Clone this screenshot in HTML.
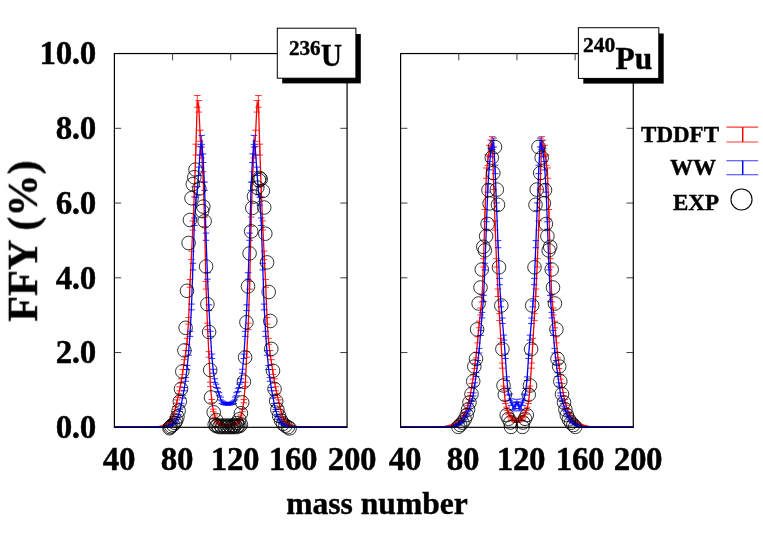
<!DOCTYPE html><html><head><meta charset="utf-8"><title>FFY</title><style>
html,body{margin:0;padding:0;background:#fff}body{width:763px;height:534px;position:relative;overflow:hidden;font-family:"Liberation Serif",serif;font-weight:bold;color:#000}
.t{position:absolute;white-space:nowrap;line-height:1;margin:0;padding:0;will-change:transform;-webkit-text-stroke:0.4px #000}
.t sup{vertical-align:baseline;position:relative}
</style></head><body>
<svg width="763" height="534" viewBox="0 0 763 534" style="position:absolute;left:0;top:0">
<rect width="763" height="534" fill="#fff"/>
<defs><clipPath id="c1"><rect x="114.4" y="53.55" width="232.67" height="374.00"/></clipPath><clipPath id="c2"><rect x="400.6" y="53.55" width="232.67" height="374.00"/></clipPath></defs>
<g clip-path="url(#c1)">
<path d="M114.40 427.30V427.30M111.10 427.30h6.6M111.10 427.30h6.6M115.85 427.30V427.30M112.55 427.30h6.6M112.55 427.30h6.6M117.31 427.30V427.30M114.01 427.30h6.6M114.01 427.30h6.6M118.76 427.30V427.30M115.46 427.30h6.6M115.46 427.30h6.6M120.22 427.30V427.30M116.92 427.30h6.6M116.92 427.30h6.6M121.67 427.30V427.30M118.37 427.30h6.6M118.37 427.30h6.6M123.13 427.30V427.30M119.83 427.30h6.6M119.83 427.30h6.6M124.58 427.30V427.30M121.28 427.30h6.6M121.28 427.30h6.6M126.03 427.30V427.30M122.73 427.30h6.6M122.73 427.30h6.6M127.49 427.30V427.30M124.19 427.30h6.6M124.19 427.30h6.6M128.94 427.30V427.30M125.64 427.30h6.6M125.64 427.30h6.6M130.40 427.30V427.30M127.10 427.30h6.6M127.10 427.30h6.6M131.85 427.30V427.30M128.55 427.30h6.6M128.55 427.30h6.6M133.30 427.30V427.30M130.00 427.30h6.6M130.00 427.30h6.6M134.76 427.30V427.30M131.46 427.30h6.6M131.46 427.30h6.6M136.21 427.30V427.30M132.91 427.30h6.6M132.91 427.30h6.6M137.67 427.30V427.30M134.37 427.30h6.6M134.37 427.30h6.6M139.12 427.30V427.30M135.82 427.30h6.6M135.82 427.30h6.6M140.58 427.30V427.30M137.28 427.30h6.6M137.28 427.30h6.6M142.03 427.20V427.30M138.73 427.20h6.6M138.73 427.30h6.6M143.48 427.20V427.30M140.18 427.20h6.6M140.18 427.30h6.6M144.94 427.20V427.30M141.64 427.20h6.6M141.64 427.30h6.6M146.39 427.20V427.30M143.09 427.20h6.6M143.09 427.30h6.6M147.85 427.17V427.30M144.55 427.17h6.6M144.55 427.30h6.6M149.30 427.14V427.30M146.00 427.14h6.6M146.00 427.30h6.6M150.75 427.09V427.30M147.45 427.09h6.6M147.45 427.30h6.6M152.21 427.03V427.28M148.91 427.03h6.6M148.91 427.28h6.6M153.66 426.97V427.25M150.36 426.97h6.6M150.36 427.25h6.6M155.12 426.91V427.22M151.82 426.91h6.6M151.82 427.22h6.6M156.57 426.83V427.18M153.27 426.83h6.6M153.27 427.18h6.6M158.03 426.73V427.12M154.73 426.73h6.6M154.73 427.12h6.6M159.48 426.63V427.07M156.18 426.63h6.6M156.18 427.07h6.6M160.93 426.45V426.95M157.63 426.45h6.6M157.63 426.95h6.6M162.39 426.18V426.77M159.09 426.18h6.6M159.09 426.77h6.6M163.84 425.84V426.52M160.54 425.84h6.6M160.54 426.52h6.6M165.30 425.20V426.04M162.00 425.20h6.6M162.00 426.04h6.6M166.75 424.37V425.38M163.45 424.37h6.6M163.45 425.38h6.6M168.21 423.34V424.53M164.91 423.34h6.6M164.91 424.53h6.6M169.66 421.93V423.33M166.36 421.93h6.6M166.36 423.33h6.6M171.11 419.73V421.41M167.81 419.73h6.6M167.81 421.41h6.6M172.57 416.57V418.59M169.27 416.57h6.6M169.27 418.59h6.6M174.02 411.88V414.32M170.72 411.88h6.6M170.72 414.32h6.6M175.48 406.44V409.29M172.18 406.44h6.6M172.18 409.29h6.6M176.93 399.87V403.16M173.63 399.87h6.6M173.63 403.16h6.6M178.38 393.70V397.36M175.08 393.70h6.6M175.08 397.36h6.6M179.84 386.79V390.81M176.54 386.79h6.6M176.54 390.81h6.6M181.29 378.75V383.16M177.99 378.75h6.6M177.99 383.16h6.6M182.75 369.58V374.39M179.45 369.58h6.6M179.45 374.39h6.6M184.20 359.65V364.88M180.90 359.65h6.6M180.90 364.88h6.6M185.66 350.51V356.08M182.36 350.51h6.6M182.36 356.08h6.6M187.11 338.33V344.34M183.81 338.33h6.6M183.81 344.34h6.6M188.56 317.44V324.13M185.26 317.44h6.6M185.26 324.13h6.6M190.02 279.52V287.29M186.72 279.52h6.6M186.72 287.29h6.6M191.47 251.13V259.62M188.17 251.13h6.6M188.17 259.62h6.6M192.93 220.87V230.08M189.63 220.87h6.6M189.63 230.08h6.6M194.38 186.87V196.81M191.08 186.87h6.6M191.08 196.81h6.6M195.84 144.20V155.00M192.54 144.20h6.6M192.54 155.00h6.6M197.29 95.54V107.24M193.99 95.54h6.6M193.99 107.24h6.6M198.74 100.44V112.05M195.44 100.44h6.6M195.44 112.05h6.6M200.20 130.24V141.31M196.90 130.24h6.6M196.90 141.31h6.6M201.65 147.22V157.96M198.35 147.22h6.6M198.35 157.96h6.6M203.11 171.76V182.01M199.81 171.76h6.6M199.81 182.01h6.6M204.56 217.09V226.38M201.26 217.09h6.6M201.26 226.38h6.6M206.01 281.41V289.14M202.71 281.41h6.6M202.71 289.14h6.6M207.47 323.13V329.64M204.17 323.13h6.6M204.17 329.64h6.6M208.92 351.65V357.18M205.62 351.65h6.6M205.62 357.18h6.6M210.38 382.19V386.44M207.08 382.19h6.6M207.08 386.44h6.6M211.83 399.48V402.79M208.53 399.48h6.6M208.53 402.79h6.6M213.29 409.15V411.81M209.99 409.15h6.6M209.99 411.81h6.6M214.74 415.00V417.17M211.44 415.00h6.6M211.44 417.17h6.6M216.19 418.94V420.71M212.89 418.94h6.6M212.89 420.71h6.6M217.65 421.33V422.81M214.35 421.33h6.6M214.35 422.81h6.6M219.10 422.53V423.85M215.80 422.53h6.6M215.80 423.85h6.6M220.56 423.55V424.70M217.26 423.55h6.6M217.26 424.70h6.6M222.01 424.16V425.21M218.71 424.16h6.6M218.71 425.21h6.6M223.47 424.57V425.54M220.16 424.57h6.6M220.16 425.54h6.6M224.92 424.78V425.71M221.62 424.78h6.6M221.62 425.71h6.6M226.37 424.99V425.87M223.07 424.99h6.6M223.07 425.87h6.6M227.83 424.99V425.87M224.53 424.99h6.6M224.53 425.87h6.6M229.28 424.99V425.87M225.98 424.99h6.6M225.98 425.87h6.6M230.74 424.78V425.71M227.44 424.78h6.6M227.44 425.71h6.6M232.19 424.57V425.54M228.89 424.57h6.6M228.89 425.54h6.6M233.64 424.16V425.21M230.34 424.16h6.6M230.34 425.21h6.6M235.10 423.55V424.70M231.80 423.55h6.6M231.80 424.70h6.6M236.55 422.53V423.85M233.25 422.53h6.6M233.25 423.85h6.6M238.01 421.33V422.81M234.71 421.33h6.6M234.71 422.81h6.6M239.46 418.94V420.71M236.16 418.94h6.6M236.16 420.71h6.6M240.92 415.00V417.17M237.62 415.00h6.6M237.62 417.17h6.6M242.37 409.15V411.81M239.07 409.15h6.6M239.07 411.81h6.6M243.82 399.48V402.79M240.52 399.48h6.6M240.52 402.79h6.6M245.28 382.19V386.44M241.98 382.19h6.6M241.98 386.44h6.6M246.73 351.65V357.18M243.43 351.65h6.6M243.43 357.18h6.6M248.19 323.13V329.64M244.89 323.13h6.6M244.89 329.64h6.6M249.64 281.41V289.14M246.34 281.41h6.6M246.34 289.14h6.6M251.09 217.09V226.38M247.79 217.09h6.6M247.79 226.38h6.6M252.55 171.76V182.01M249.25 171.76h6.6M249.25 182.01h6.6M254.00 147.22V157.96M250.70 147.22h6.6M250.70 157.96h6.6M255.46 130.24V141.31M252.16 130.24h6.6M252.16 141.31h6.6M256.91 100.44V112.05M253.61 100.44h6.6M253.61 112.05h6.6M258.37 95.54V107.24M255.07 95.54h6.6M255.07 107.24h6.6M259.82 144.20V155.00M256.52 144.20h6.6M256.52 155.00h6.6M261.27 186.87V196.81M257.97 186.87h6.6M257.97 196.81h6.6M262.73 220.87V230.08M259.43 220.87h6.6M259.43 230.08h6.6M264.18 251.13V259.62M260.88 251.13h6.6M260.88 259.62h6.6M265.64 279.52V287.29M262.34 279.52h6.6M262.34 287.29h6.6M267.09 317.44V324.13M263.79 317.44h6.6M263.79 324.13h6.6M268.55 338.33V344.34M265.25 338.33h6.6M265.25 344.34h6.6M270.00 350.51V356.08M266.70 350.51h6.6M266.70 356.08h6.6M271.45 359.65V364.88M268.15 359.65h6.6M268.15 364.88h6.6M272.91 369.58V374.39M269.61 369.58h6.6M269.61 374.39h6.6M274.36 378.75V383.16M271.06 378.75h6.6M271.06 383.16h6.6M275.82 386.79V390.81M272.52 386.79h6.6M272.52 390.81h6.6M277.27 393.70V397.36M273.97 393.70h6.6M273.97 397.36h6.6M278.72 399.87V403.16M275.42 399.87h6.6M275.42 403.16h6.6M280.18 406.44V409.29M276.88 406.44h6.6M276.88 409.29h6.6M281.63 411.88V414.32M278.33 411.88h6.6M278.33 414.32h6.6M283.09 416.57V418.59M279.79 416.57h6.6M279.79 418.59h6.6M284.54 419.73V421.41M281.24 419.73h6.6M281.24 421.41h6.6M286.00 421.93V423.33M282.70 421.93h6.6M282.70 423.33h6.6M287.45 423.34V424.53M284.15 423.34h6.6M284.15 424.53h6.6M288.90 424.37V425.38M285.60 424.37h6.6M285.60 425.38h6.6M290.36 425.20V426.04M287.06 425.20h6.6M287.06 426.04h6.6M291.81 425.84V426.52M288.51 425.84h6.6M288.51 426.52h6.6M293.27 426.18V426.77M289.97 426.18h6.6M289.97 426.77h6.6M294.72 426.45V426.95M291.42 426.45h6.6M291.42 426.95h6.6M296.18 426.63V427.07M292.88 426.63h6.6M292.88 427.07h6.6M297.63 426.73V427.12M294.33 426.73h6.6M294.33 427.12h6.6M299.08 426.83V427.18M295.78 426.83h6.6M295.78 427.18h6.6M300.54 426.91V427.22M297.24 426.91h6.6M297.24 427.22h6.6M301.99 426.97V427.25M298.69 426.97h6.6M298.69 427.25h6.6M303.45 427.03V427.28M300.15 427.03h6.6M300.15 427.28h6.6M304.90 427.09V427.30M301.60 427.09h6.6M301.60 427.30h6.6M306.35 427.14V427.30M303.05 427.14h6.6M303.05 427.30h6.6M307.81 427.17V427.30M304.51 427.17h6.6M304.51 427.30h6.6M309.26 427.20V427.30M305.96 427.20h6.6M305.96 427.30h6.6M310.72 427.20V427.30M307.42 427.20h6.6M307.42 427.30h6.6M312.17 427.20V427.30M308.87 427.20h6.6M308.87 427.30h6.6M313.63 427.20V427.30M310.33 427.20h6.6M310.33 427.30h6.6M315.08 427.30V427.30M311.78 427.30h6.6M311.78 427.30h6.6M316.53 427.30V427.30M313.23 427.30h6.6M313.23 427.30h6.6M317.99 427.30V427.30M314.69 427.30h6.6M314.69 427.30h6.6M319.44 427.30V427.30M316.14 427.30h6.6M316.14 427.30h6.6M320.90 427.30V427.30M317.60 427.30h6.6M317.60 427.30h6.6M322.35 427.30V427.30M319.05 427.30h6.6M319.05 427.30h6.6M323.80 427.30V427.30M320.50 427.30h6.6M320.50 427.30h6.6M325.26 427.30V427.30M321.96 427.30h6.6M321.96 427.30h6.6M326.71 427.30V427.30M323.41 427.30h6.6M323.41 427.30h6.6M328.17 427.30V427.30M324.87 427.30h6.6M324.87 427.30h6.6M329.62 427.30V427.30M326.32 427.30h6.6M326.32 427.30h6.6M331.08 427.30V427.30M327.78 427.30h6.6M327.78 427.30h6.6M332.53 427.30V427.30M329.23 427.30h6.6M329.23 427.30h6.6M333.98 427.30V427.30M330.68 427.30h6.6M330.68 427.30h6.6M335.44 427.30V427.30M332.14 427.30h6.6M332.14 427.30h6.6M336.89 427.30V427.30M333.59 427.30h6.6M333.59 427.30h6.6M338.35 427.30V427.30M335.05 427.30h6.6M335.05 427.30h6.6M339.80 427.30V427.30M336.50 427.30h6.6M336.50 427.30h6.6M341.26 427.30V427.30M337.96 427.30h6.6M337.96 427.30h6.6M342.71 427.30V427.30M339.41 427.30h6.6M339.41 427.30h6.6M344.16 427.30V427.30M340.86 427.30h6.6M340.86 427.30h6.6M345.62 427.30V427.30M342.32 427.30h6.6M342.32 427.30h6.6M347.07 427.30V427.30M343.77 427.30h6.6M343.77 427.30h6.6" stroke="#ff0000" stroke-width="0.8" fill="none"/>
<polyline points="114.40,427.30 115.85,427.30 117.31,427.30 118.76,427.30 120.22,427.30 121.67,427.30 123.13,427.30 124.58,427.30 126.03,427.30 127.49,427.30 128.94,427.30 130.40,427.30 131.85,427.30 133.30,427.30 134.76,427.30 136.21,427.30 137.67,427.30 139.12,427.30 140.58,427.30 142.03,427.26 143.48,427.26 144.94,427.26 146.39,427.26 147.85,427.25 149.30,427.23 150.75,427.19 152.21,427.15 153.66,427.11 155.12,427.06 156.57,427.00 158.03,426.93 159.48,426.85 160.93,426.70 162.39,426.48 163.84,426.18 165.30,425.62 166.75,424.87 168.21,423.94 169.66,422.63 171.11,420.57 172.57,417.58 174.02,413.10 175.48,407.87 176.93,401.51 178.38,395.53 179.84,388.80 181.29,380.96 182.75,371.99 184.20,362.27 185.66,353.30 187.11,341.34 188.56,320.78 190.02,283.41 191.47,255.38 192.93,225.47 194.38,191.84 195.84,149.60 197.29,101.39 198.74,106.25 200.20,135.78 201.65,152.59 203.11,176.89 204.56,221.74 206.01,285.27 207.47,326.39 208.92,354.42 210.38,384.32 211.83,401.14 213.29,410.48 214.74,416.09 216.19,419.82 217.65,422.07 219.10,423.19 220.56,424.12 222.01,424.68 223.47,425.06 224.92,425.24 226.37,425.43 227.83,425.43 229.28,425.43 230.74,425.24 232.19,425.06 233.64,424.68 235.10,424.12 236.55,423.19 238.01,422.07 239.46,419.82 240.92,416.09 242.37,410.48 243.82,401.14 245.28,384.32 246.73,354.42 248.19,326.39 249.64,285.27 251.09,221.74 252.55,176.89 254.00,152.59 255.46,135.78 256.91,106.25 258.37,101.39 259.82,149.60 261.27,191.84 262.73,225.47 264.18,255.38 265.64,283.41 267.09,320.78 268.55,341.34 270.00,353.30 271.45,362.27 272.91,371.99 274.36,380.96 275.82,388.80 277.27,395.53 278.72,401.51 280.18,407.87 281.63,413.10 283.09,417.58 284.54,420.57 286.00,422.63 287.45,423.94 288.90,424.87 290.36,425.62 291.81,426.18 293.27,426.48 294.72,426.70 296.18,426.85 297.63,426.93 299.08,427.00 300.54,427.06 301.99,427.11 303.45,427.15 304.90,427.19 306.35,427.23 307.81,427.25 309.26,427.26 310.72,427.26 312.17,427.26 313.63,427.26 315.08,427.30 316.53,427.30 317.99,427.30 319.44,427.30 320.90,427.30 322.35,427.30 323.80,427.30 325.26,427.30 326.71,427.30 328.17,427.30 329.62,427.30 331.08,427.30 332.53,427.30 333.98,427.30 335.44,427.30 336.89,427.30 338.35,427.30 339.80,427.30 341.26,427.30 342.71,427.30 344.16,427.30 345.62,427.30 347.07,427.30" stroke="#ff0000" stroke-width="1.3" fill="none" stroke-linejoin="round"/>
<path d="M114.40 427.30V427.30M111.10 427.30h6.6M111.10 427.30h6.6M115.85 427.30V427.30M112.55 427.30h6.6M112.55 427.30h6.6M117.31 427.30V427.30M114.01 427.30h6.6M114.01 427.30h6.6M118.76 427.30V427.30M115.46 427.30h6.6M115.46 427.30h6.6M120.22 427.30V427.30M116.92 427.30h6.6M116.92 427.30h6.6M121.67 427.30V427.30M118.37 427.30h6.6M118.37 427.30h6.6M123.13 427.30V427.30M119.83 427.30h6.6M119.83 427.30h6.6M124.58 427.30V427.30M121.28 427.30h6.6M121.28 427.30h6.6M126.03 427.30V427.30M122.73 427.30h6.6M122.73 427.30h6.6M127.49 427.30V427.30M124.19 427.30h6.6M124.19 427.30h6.6M128.94 427.30V427.30M125.64 427.30h6.6M125.64 427.30h6.6M130.40 427.30V427.30M127.10 427.30h6.6M127.10 427.30h6.6M131.85 427.30V427.30M128.55 427.30h6.6M128.55 427.30h6.6M133.30 427.30V427.30M130.00 427.30h6.6M130.00 427.30h6.6M134.76 427.30V427.30M131.46 427.30h6.6M131.46 427.30h6.6M136.21 427.30V427.30M132.91 427.30h6.6M132.91 427.30h6.6M137.67 427.30V427.30M134.37 427.30h6.6M134.37 427.30h6.6M139.12 427.30V427.30M135.82 427.30h6.6M135.82 427.30h6.6M140.58 427.30V427.30M137.28 427.30h6.6M137.28 427.30h6.6M142.03 427.30V427.30M138.73 427.30h6.6M138.73 427.30h6.6M143.48 427.30V427.30M140.18 427.30h6.6M140.18 427.30h6.6M144.94 427.30V427.30M141.64 427.30h6.6M141.64 427.30h6.6M146.39 427.30V427.30M143.09 427.30h6.6M143.09 427.30h6.6M147.85 427.21V427.30M144.55 427.21h6.6M144.55 427.30h6.6M149.30 427.21V427.30M146.00 427.21h6.6M146.00 427.30h6.6M150.75 427.21V427.30M147.45 427.21h6.6M147.45 427.30h6.6M152.21 427.21V427.30M148.91 427.21h6.6M148.91 427.30h6.6M153.66 427.19V427.30M150.36 427.19h6.6M150.36 427.30h6.6M155.12 427.15V427.30M151.82 427.15h6.6M151.82 427.30h6.6M156.57 427.11V427.28M153.27 427.11h6.6M153.27 427.28h6.6M158.03 427.05V427.25M154.73 427.05h6.6M154.73 427.25h6.6M159.48 427.00V427.23M156.18 427.00h6.6M156.18 427.23h6.6M160.93 426.93V427.19M157.63 426.93h6.6M157.63 427.19h6.6M162.39 426.86V427.14M159.09 426.86h6.6M159.09 427.14h6.6M163.84 426.71V427.05M160.54 426.71h6.6M160.54 427.05h6.6M165.30 426.50V426.91M162.00 426.50h6.6M162.00 426.91h6.6M166.75 426.24V426.72M163.45 426.24h6.6M163.45 426.72h6.6M168.21 425.90V426.46M164.91 425.90h6.6M164.91 426.46h6.6M169.66 425.46V426.11M166.36 425.46h6.6M166.36 426.11h6.6M171.11 424.87V425.62M167.81 424.87h6.6M167.81 425.62h6.6M172.57 423.94V424.84M169.27 423.94h6.6M169.27 424.84h6.6M174.02 422.66V423.72M170.72 422.66h6.6M170.72 423.72h6.6M175.48 420.71V422.00M172.18 420.71h6.6M172.18 422.00h6.6M176.93 417.93V419.47M173.63 417.93h6.6M173.63 419.47h6.6M178.38 414.36V416.19M175.08 414.36h6.6M175.08 416.19h6.6M179.84 409.40V411.56M176.54 409.40h6.6M176.54 411.56h6.6M181.29 403.34V405.85M177.99 403.34h6.6M177.99 405.85h6.6M182.75 395.20V398.11M179.45 395.20h6.6M179.45 398.11h6.6M184.20 387.55V390.80M180.90 387.55h6.6M180.90 390.80h6.6M185.66 377.64V381.28M182.36 377.64h6.6M182.36 381.28h6.6M187.11 365.47V369.53M183.81 365.47h6.6M183.81 369.53h6.6M188.56 350.66V355.19M185.26 350.66h6.6M185.26 355.19h6.6M190.02 331.32V336.40M186.72 331.32h6.6M186.72 336.40h6.6M191.47 304.07V309.84M188.17 304.07h6.6M188.17 309.84h6.6M192.93 263.25V269.92M189.63 263.25h6.6M189.63 269.92h6.6M194.38 217.97V225.51M191.08 217.97h6.6M191.08 225.51h6.6M195.84 197.23V205.13M192.54 197.23h6.6M192.54 205.13h6.6M197.29 186.67V194.76M193.99 186.67h6.6M193.99 194.76h6.6M198.74 167.08V175.49M195.44 167.08h6.6M195.44 175.49h6.6M200.20 146.35V155.10M196.90 146.35h6.6M196.90 155.10h6.6M201.65 135.43V144.34M198.35 135.43h6.6M198.35 144.34h6.6M203.11 153.89V162.51M199.81 153.89h6.6M199.81 162.51h6.6M204.56 182.15V190.31M201.26 182.15h6.6M201.26 190.31h6.6M206.01 233.06V240.32M202.71 233.06h6.6M202.71 240.32h6.6M207.47 272.70V279.17M204.17 272.70h6.6M204.17 279.17h6.6M208.92 304.83V310.57M205.62 304.83h6.6M205.62 310.57h6.6M210.38 331.32V336.40M207.08 331.32h6.6M207.08 336.40h6.6M211.83 354.07V358.50M208.53 354.07h6.6M208.53 358.50h6.6M213.29 369.27V373.21M209.99 369.27h6.6M209.99 373.21h6.6M214.74 378.78V382.38M211.44 378.78h6.6M211.44 382.38h6.6M216.19 384.12V387.51M212.89 384.12h6.6M212.89 387.51h6.6M217.65 388.32V391.53M214.35 388.32h6.6M214.35 391.53h6.6M219.10 392.71V395.74M215.80 392.71h6.6M215.80 395.74h6.6M220.56 397.11V399.93M217.26 397.11h6.6M217.26 399.93h6.6M222.01 400.94V403.57M218.71 400.94h6.6M218.71 403.57h6.6M223.47 401.90V404.48M220.16 401.90h6.6M220.16 404.48h6.6M224.92 402.29V404.85M221.62 402.29h6.6M221.62 404.85h6.6M226.37 402.48V405.03M223.07 402.48h6.6M223.07 405.03h6.6M227.83 402.48V405.03M224.53 402.48h6.6M224.53 405.03h6.6M229.28 402.48V405.03M225.98 402.48h6.6M225.98 405.03h6.6M230.74 402.29V404.85M227.44 402.29h6.6M227.44 404.85h6.6M232.19 401.90V404.48M228.89 401.90h6.6M228.89 404.48h6.6M233.64 400.94V403.57M230.34 400.94h6.6M230.34 403.57h6.6M235.10 397.11V399.93M231.80 397.11h6.6M231.80 399.93h6.6M236.55 392.71V395.74M233.25 392.71h6.6M233.25 395.74h6.6M238.01 388.32V391.53M234.71 388.32h6.6M234.71 391.53h6.6M239.46 384.12V387.51M236.16 384.12h6.6M236.16 387.51h6.6M240.92 378.78V382.38M237.62 378.78h6.6M237.62 382.38h6.6M242.37 369.27V373.21M239.07 369.27h6.6M239.07 373.21h6.6M243.82 354.07V358.50M240.52 354.07h6.6M240.52 358.50h6.6M245.28 331.32V336.40M241.98 331.32h6.6M241.98 336.40h6.6M246.73 304.83V310.57M243.43 304.83h6.6M243.43 310.57h6.6M248.19 272.70V279.17M244.89 272.70h6.6M244.89 279.17h6.6M249.64 233.06V240.32M246.34 233.06h6.6M246.34 240.32h6.6M251.09 182.15V190.31M247.79 182.15h6.6M247.79 190.31h6.6M252.55 153.89V162.51M249.25 153.89h6.6M249.25 162.51h6.6M254.00 135.43V144.34M250.70 135.43h6.6M250.70 144.34h6.6M255.46 146.35V155.10M252.16 146.35h6.6M252.16 155.10h6.6M256.91 167.08V175.49M253.61 167.08h6.6M253.61 175.49h6.6M258.37 186.67V194.76M255.07 186.67h6.6M255.07 194.76h6.6M259.82 197.23V205.13M256.52 197.23h6.6M256.52 205.13h6.6M261.27 217.97V225.51M257.97 217.97h6.6M257.97 225.51h6.6M262.73 263.25V269.92M259.43 263.25h6.6M259.43 269.92h6.6M264.18 304.07V309.84M260.88 304.07h6.6M260.88 309.84h6.6M265.64 331.32V336.40M262.34 331.32h6.6M262.34 336.40h6.6M267.09 350.66V355.19M263.79 350.66h6.6M263.79 355.19h6.6M268.55 365.47V369.53M265.25 365.47h6.6M265.25 369.53h6.6M270.00 377.64V381.28M266.70 377.64h6.6M266.70 381.28h6.6M271.45 387.55V390.80M268.15 387.55h6.6M268.15 390.80h6.6M272.91 395.20V398.11M269.61 395.20h6.6M269.61 398.11h6.6M274.36 403.34V405.85M271.06 403.34h6.6M271.06 405.85h6.6M275.82 409.40V411.56M272.52 409.40h6.6M272.52 411.56h6.6M277.27 414.36V416.19M273.97 414.36h6.6M273.97 416.19h6.6M278.72 417.93V419.47M275.42 417.93h6.6M275.42 419.47h6.6M280.18 420.71V422.00M276.88 420.71h6.6M276.88 422.00h6.6M281.63 422.66V423.72M278.33 422.66h6.6M278.33 423.72h6.6M283.09 423.94V424.84M279.79 423.94h6.6M279.79 424.84h6.6M284.54 424.87V425.62M281.24 424.87h6.6M281.24 425.62h6.6M286.00 425.46V426.11M282.70 425.46h6.6M282.70 426.11h6.6M287.45 425.90V426.46M284.15 425.90h6.6M284.15 426.46h6.6M288.90 426.24V426.72M285.60 426.24h6.6M285.60 426.72h6.6M290.36 426.50V426.91M287.06 426.50h6.6M287.06 426.91h6.6M291.81 426.71V427.05M288.51 426.71h6.6M288.51 427.05h6.6M293.27 426.86V427.14M289.97 426.86h6.6M289.97 427.14h6.6M294.72 426.93V427.19M291.42 426.93h6.6M291.42 427.19h6.6M296.18 427.00V427.23M292.88 427.00h6.6M292.88 427.23h6.6M297.63 427.05V427.25M294.33 427.05h6.6M294.33 427.25h6.6M299.08 427.11V427.28M295.78 427.11h6.6M295.78 427.28h6.6M300.54 427.15V427.30M297.24 427.15h6.6M297.24 427.30h6.6M301.99 427.19V427.30M298.69 427.19h6.6M298.69 427.30h6.6M303.45 427.21V427.30M300.15 427.21h6.6M300.15 427.30h6.6M304.90 427.21V427.30M301.60 427.21h6.6M301.60 427.30h6.6M306.35 427.21V427.30M303.05 427.21h6.6M303.05 427.30h6.6M307.81 427.21V427.30M304.51 427.21h6.6M304.51 427.30h6.6M309.26 427.30V427.30M305.96 427.30h6.6M305.96 427.30h6.6M310.72 427.30V427.30M307.42 427.30h6.6M307.42 427.30h6.6M312.17 427.30V427.30M308.87 427.30h6.6M308.87 427.30h6.6M313.63 427.30V427.30M310.33 427.30h6.6M310.33 427.30h6.6M315.08 427.30V427.30M311.78 427.30h6.6M311.78 427.30h6.6M316.53 427.30V427.30M313.23 427.30h6.6M313.23 427.30h6.6M317.99 427.30V427.30M314.69 427.30h6.6M314.69 427.30h6.6M319.44 427.30V427.30M316.14 427.30h6.6M316.14 427.30h6.6M320.90 427.30V427.30M317.60 427.30h6.6M317.60 427.30h6.6M322.35 427.30V427.30M319.05 427.30h6.6M319.05 427.30h6.6M323.80 427.30V427.30M320.50 427.30h6.6M320.50 427.30h6.6M325.26 427.30V427.30M321.96 427.30h6.6M321.96 427.30h6.6M326.71 427.30V427.30M323.41 427.30h6.6M323.41 427.30h6.6M328.17 427.30V427.30M324.87 427.30h6.6M324.87 427.30h6.6M329.62 427.30V427.30M326.32 427.30h6.6M326.32 427.30h6.6M331.08 427.30V427.30M327.78 427.30h6.6M327.78 427.30h6.6M332.53 427.30V427.30M329.23 427.30h6.6M329.23 427.30h6.6M333.98 427.30V427.30M330.68 427.30h6.6M330.68 427.30h6.6M335.44 427.30V427.30M332.14 427.30h6.6M332.14 427.30h6.6M336.89 427.30V427.30M333.59 427.30h6.6M333.59 427.30h6.6M338.35 427.30V427.30M335.05 427.30h6.6M335.05 427.30h6.6M339.80 427.30V427.30M336.50 427.30h6.6M336.50 427.30h6.6M341.26 427.30V427.30M337.96 427.30h6.6M337.96 427.30h6.6M342.71 427.30V427.30M339.41 427.30h6.6M339.41 427.30h6.6M344.16 427.30V427.30M340.86 427.30h6.6M340.86 427.30h6.6M345.62 427.30V427.30M342.32 427.30h6.6M342.32 427.30h6.6M347.07 427.30V427.30M343.77 427.30h6.6M343.77 427.30h6.6" stroke="#0000ff" stroke-width="0.8" fill="none"/>
<polyline points="114.40,427.30 115.85,427.30 117.31,427.30 118.76,427.30 120.22,427.30 121.67,427.30 123.13,427.30 124.58,427.30 126.03,427.30 127.49,427.30 128.94,427.30 130.40,427.30 131.85,427.30 133.30,427.30 134.76,427.30 136.21,427.30 137.67,427.30 139.12,427.30 140.58,427.30 142.03,427.30 143.48,427.30 144.94,427.30 146.39,427.30 147.85,427.26 149.30,427.26 150.75,427.26 152.21,427.26 153.66,427.25 155.12,427.23 156.57,427.19 158.03,427.15 159.48,427.11 160.93,427.06 162.39,427.00 163.84,426.88 165.30,426.70 166.75,426.48 168.21,426.18 169.66,425.78 171.11,425.24 172.57,424.39 174.02,423.19 175.48,421.36 176.93,418.70 178.38,415.28 179.84,410.48 181.29,404.60 182.75,396.65 184.20,389.18 185.66,379.46 187.11,367.50 188.56,352.92 190.02,333.86 191.47,306.95 192.93,266.59 194.38,221.74 195.84,201.18 197.29,190.72 198.74,171.28 200.20,150.73 201.65,139.89 203.11,158.20 204.56,186.23 206.01,236.69 207.47,275.93 208.92,307.70 210.38,333.86 211.83,356.29 213.29,371.24 214.74,380.58 216.19,385.81 217.65,389.93 219.10,394.22 220.56,398.52 222.01,402.26 223.47,403.19 224.92,403.57 226.37,403.75 227.83,403.75 229.28,403.75 230.74,403.57 232.19,403.19 233.64,402.26 235.10,398.52 236.55,394.22 238.01,389.93 239.46,385.81 240.92,380.58 242.37,371.24 243.82,356.29 245.28,333.86 246.73,307.70 248.19,275.93 249.64,236.69 251.09,186.23 252.55,158.20 254.00,139.89 255.46,150.73 256.91,171.28 258.37,190.72 259.82,201.18 261.27,221.74 262.73,266.59 264.18,306.95 265.64,333.86 267.09,352.92 268.55,367.50 270.00,379.46 271.45,389.18 272.91,396.65 274.36,404.60 275.82,410.48 277.27,415.28 278.72,418.70 280.18,421.36 281.63,423.19 283.09,424.39 284.54,425.24 286.00,425.78 287.45,426.18 288.90,426.48 290.36,426.70 291.81,426.88 293.27,427.00 294.72,427.06 296.18,427.11 297.63,427.15 299.08,427.19 300.54,427.23 301.99,427.25 303.45,427.26 304.90,427.26 306.35,427.26 307.81,427.26 309.26,427.30 310.72,427.30 312.17,427.30 313.63,427.30 315.08,427.30 316.53,427.30 317.99,427.30 319.44,427.30 320.90,427.30 322.35,427.30 323.80,427.30 325.26,427.30 326.71,427.30 328.17,427.30 329.62,427.30 331.08,427.30 332.53,427.30 333.98,427.30 335.44,427.30 336.89,427.30 338.35,427.30 339.80,427.30 341.26,427.30 342.71,427.30 344.16,427.30 345.62,427.30 347.07,427.30" stroke="#0000ff" stroke-width="1.3" fill="none" stroke-linejoin="round"/>
</g>
<g fill="none" stroke="#000" stroke-width="0.8"><circle cx="169.5" cy="428.2" r="6.8"/>
<circle cx="170.1" cy="427.2" r="6.8"/>
<circle cx="171.3" cy="426.2" r="6.8"/>
<circle cx="173.1" cy="424.8" r="6.8"/>
<circle cx="174.9" cy="422.9" r="6.8"/>
<circle cx="176.2" cy="420.5" r="6.8"/>
<circle cx="177.4" cy="416.9" r="6.8"/>
<circle cx="178.6" cy="410.8" r="6.8"/>
<circle cx="179.8" cy="401.6" r="6.8"/>
<circle cx="181.0" cy="388.9" r="6.8"/>
<circle cx="182.3" cy="371.5" r="6.8"/>
<circle cx="184.4" cy="350.4" r="6.8"/>
<circle cx="185.6" cy="327.8" r="6.8"/>
<circle cx="187.0" cy="290.8" r="6.8"/>
<circle cx="188.6" cy="243.0" r="6.8"/>
<circle cx="189.9" cy="220.0" r="6.8"/>
<circle cx="191.5" cy="198.2" r="6.8"/>
<circle cx="192.8" cy="184.2" r="6.8"/>
<circle cx="194.3" cy="177.2" r="6.8"/>
<circle cx="195.5" cy="169.6" r="6.8"/>
<circle cx="199.3" cy="188.5" r="6.8"/>
<circle cx="202.1" cy="211.1" r="6.8"/>
<circle cx="203.3" cy="206.6" r="6.8"/>
<circle cx="204.6" cy="221.2" r="6.8"/>
<circle cx="206.1" cy="266.5" r="6.8"/>
<circle cx="207.4" cy="304.2" r="6.8"/>
<circle cx="209.1" cy="332.0" r="6.8"/>
<circle cx="210.2" cy="370.0" r="6.8"/>
<circle cx="211.0" cy="397.4" r="6.8"/>
<circle cx="213.7" cy="412.3" r="6.8"/>
<circle cx="216.1" cy="420.0" r="6.8"/>
<circle cx="233.6" cy="425.5" r="6.8"/>
<circle cx="236.8" cy="423.1" r="6.8"/>
<circle cx="239.2" cy="419.4" r="6.8"/>
<circle cx="240.9" cy="413.3" r="6.8"/>
<circle cx="242.2" cy="402.4" r="6.8"/>
<circle cx="243.9" cy="381.7" r="6.8"/>
<circle cx="245.1" cy="357.4" r="6.8"/>
<circle cx="246.4" cy="322.3" r="6.8"/>
<circle cx="248.0" cy="286.4" r="6.8"/>
<circle cx="249.6" cy="253.4" r="6.8"/>
<circle cx="251.2" cy="231.4" r="6.8"/>
<circle cx="252.3" cy="207.9" r="6.8"/>
<circle cx="254.0" cy="196.5" r="6.8"/>
<circle cx="257.3" cy="187.6" r="6.8"/>
<circle cx="259.0" cy="180.3" r="6.8"/>
<circle cx="259.6" cy="178.0" r="6.8"/>
<circle cx="260.7" cy="179.1" r="6.8"/>
<circle cx="262.9" cy="190.9" r="6.8"/>
<circle cx="264.2" cy="207.5" r="6.8"/>
<circle cx="265.3" cy="233.7" r="6.8"/>
<circle cx="267.1" cy="262.4" r="6.8"/>
<circle cx="268.7" cy="292.0" r="6.8"/>
<circle cx="270.3" cy="321.0" r="6.8"/>
<circle cx="271.3" cy="348.9" r="6.8"/>
<circle cx="273.0" cy="370.8" r="6.8"/>
<circle cx="274.5" cy="389.0" r="6.8"/>
<circle cx="276.2" cy="401.2" r="6.8"/>
<circle cx="277.4" cy="409.7" r="6.8"/>
<circle cx="279.1" cy="415.8" r="6.8"/>
<circle cx="281.1" cy="420.6" r="6.8"/>
<circle cx="283.0" cy="423.8" r="6.8"/>
<circle cx="285.4" cy="425.7" r="6.8"/>
<circle cx="287.9" cy="427.2" r="6.8"/>
<circle cx="289.6" cy="428.4" r="6.8"/>
<circle cx="214.7" cy="424.6" r="6.8"/>
<circle cx="216.2" cy="426.1" r="6.8"/>
<circle cx="217.6" cy="425.6" r="6.8"/>
<circle cx="219.1" cy="427.1" r="6.8"/>
<circle cx="220.6" cy="425.6" r="6.8"/>
<circle cx="222.0" cy="427.1" r="6.8"/>
<circle cx="223.5" cy="425.6" r="6.8"/>
<circle cx="224.9" cy="427.1" r="6.8"/>
<circle cx="226.4" cy="425.6" r="6.8"/>
<circle cx="227.8" cy="427.1" r="6.8"/>
<circle cx="229.3" cy="425.6" r="6.8"/>
<circle cx="230.7" cy="427.1" r="6.8"/>
<circle cx="232.2" cy="425.6" r="6.8"/>
<circle cx="233.6" cy="427.1" r="6.8"/>
<circle cx="235.1" cy="425.6" r="6.8"/>
<circle cx="236.6" cy="427.1" r="6.8"/>
<circle cx="238.0" cy="425.6" r="6.8"/>
<circle cx="239.5" cy="426.1" r="6.8"/>
<circle cx="240.9" cy="424.6" r="6.8"/></g>
<g clip-path="url(#c2)">
<path d="M400.60 427.30V427.30M397.30 427.30h6.6M397.30 427.30h6.6M402.05 427.30V427.30M398.75 427.30h6.6M398.75 427.30h6.6M403.51 427.30V427.30M400.21 427.30h6.6M400.21 427.30h6.6M404.96 427.30V427.30M401.66 427.30h6.6M401.66 427.30h6.6M406.42 427.30V427.30M403.12 427.30h6.6M403.12 427.30h6.6M407.87 427.30V427.30M404.57 427.30h6.6M404.57 427.30h6.6M409.33 427.30V427.30M406.03 427.30h6.6M406.03 427.30h6.6M410.78 427.30V427.30M407.48 427.30h6.6M407.48 427.30h6.6M412.23 427.30V427.30M408.93 427.30h6.6M408.93 427.30h6.6M413.69 427.30V427.30M410.39 427.30h6.6M410.39 427.30h6.6M415.14 427.30V427.30M411.84 427.30h6.6M411.84 427.30h6.6M416.60 427.30V427.30M413.30 427.30h6.6M413.30 427.30h6.6M418.05 427.30V427.30M414.75 427.30h6.6M414.75 427.30h6.6M419.50 427.30V427.30M416.20 427.30h6.6M416.20 427.30h6.6M420.96 427.30V427.30M417.66 427.30h6.6M417.66 427.30h6.6M422.41 427.30V427.30M419.11 427.30h6.6M419.11 427.30h6.6M423.87 427.30V427.30M420.57 427.30h6.6M420.57 427.30h6.6M425.32 427.30V427.30M422.02 427.30h6.6M422.02 427.30h6.6M426.78 427.30V427.30M423.48 427.30h6.6M423.48 427.30h6.6M428.23 427.20V427.30M424.93 427.20h6.6M424.93 427.30h6.6M429.68 427.20V427.30M426.38 427.20h6.6M426.38 427.30h6.6M431.14 427.20V427.30M427.84 427.20h6.6M427.84 427.30h6.6M432.59 427.20V427.30M429.29 427.20h6.6M429.29 427.30h6.6M434.05 427.17V427.30M430.75 427.17h6.6M430.75 427.30h6.6M435.50 427.14V427.30M432.20 427.14h6.6M432.20 427.30h6.6M436.96 427.09V427.30M433.66 427.09h6.6M433.66 427.30h6.6M438.41 427.03V427.28M435.11 427.03h6.6M435.11 427.28h6.6M439.86 426.97V427.25M436.56 426.97h6.6M436.56 427.25h6.6M441.32 426.91V427.22M438.02 426.91h6.6M438.02 427.22h6.6M442.77 426.83V427.18M439.47 426.83h6.6M439.47 427.18h6.6M444.23 426.73V427.12M440.93 426.73h6.6M440.93 427.12h6.6M445.68 426.54V427.01M442.38 426.54h6.6M442.38 427.01h6.6M447.13 426.27V426.83M443.83 426.27h6.6M443.83 426.83h6.6M448.59 425.99V426.63M445.29 425.99h6.6M445.29 426.63h6.6M450.04 425.62V426.36M446.74 425.62h6.6M446.74 426.36h6.6M451.50 425.25V426.08M448.20 425.25h6.6M448.20 426.08h6.6M452.95 424.78V425.71M449.65 424.78h6.6M449.65 425.71h6.6M454.41 424.15V425.20M451.11 424.15h6.6M451.11 425.20h6.6M455.86 423.34V424.53M452.56 423.34h6.6M452.56 424.53h6.6M457.31 422.44V423.77M454.01 422.44h6.6M454.01 423.77h6.6M458.77 421.33V422.81M455.47 421.33h6.6M455.47 422.81h6.6M460.22 419.91V421.57M456.92 419.91h6.6M456.92 421.57h6.6M461.68 418.15V420.01M458.38 418.15h6.6M458.38 420.01h6.6M463.13 415.73V417.83M459.83 415.73h6.6M459.83 417.83h6.6M464.58 412.66V415.03M461.28 412.66h6.6M461.28 415.03h6.6M466.04 409.35V411.99M462.74 409.35h6.6M462.74 411.99h6.6M467.49 405.27V408.21M464.19 405.27h6.6M464.19 408.21h6.6M468.95 399.65V402.95M465.65 399.65h6.6M465.65 402.95h6.6M470.40 392.55V396.27M467.10 392.55h6.6M467.10 396.27h6.6M471.86 383.54V387.72M468.56 383.54h6.6M468.56 387.72h6.6M473.31 374.54V379.15M470.01 374.54h6.6M470.01 379.15h6.6M474.76 363.47V368.54M471.46 363.47h6.6M471.46 368.54h6.6M476.22 352.41V357.92M472.92 352.41h6.6M472.92 357.92h6.6M477.67 336.81V342.87M474.37 336.81h6.6M474.37 342.87h6.6M479.13 321.23V327.80M475.83 321.23h6.6M475.83 327.80h6.6M480.58 307.95V314.93M477.28 307.95h6.6M477.28 314.93h6.6M482.04 294.68V302.04M478.74 294.68h6.6M478.74 302.04h6.6M483.49 258.69V267.01M480.19 258.69h6.6M480.19 267.01h6.6M484.94 209.53V218.99M481.64 209.53h6.6M481.64 218.99h6.6M486.40 167.98V178.32M483.10 167.98h6.6M483.10 178.32h6.6M487.85 154.77V165.37M484.55 154.77h6.6M484.55 165.37h6.6M489.31 145.34V156.11M486.01 145.34h6.6M486.01 156.11h6.6M490.76 140.05V150.93M487.46 140.05h6.6M487.46 150.93h6.6M492.21 136.66V147.60M488.91 136.66h6.6M488.91 147.60h6.6M493.67 179.31V189.41M490.37 179.31h6.6M490.37 189.41h6.6M495.12 220.87V230.08M491.82 220.87h6.6M491.82 230.08h6.6M496.58 258.69V267.01M493.28 258.69h6.6M493.28 267.01h6.6M498.03 288.99V296.51M494.73 288.99h6.6M494.73 296.51h6.6M499.49 313.64V320.45M496.19 313.64h6.6M496.19 320.45h6.6M500.94 338.33V344.34M497.64 338.33h6.6M497.64 344.34h6.6M502.39 363.09V368.18M499.09 363.09h6.6M499.09 368.18h6.6M503.85 386.03V390.09M500.55 386.03h6.6M500.55 390.09h6.6M505.30 400.25V403.52M502.00 400.25h6.6M502.00 403.52h6.6M506.76 407.21V410.01M503.46 407.21h6.6M503.46 410.01h6.6M508.21 410.48V414.22M504.91 410.48h6.6M504.91 414.22h6.6M509.67 413.47V417.21M506.37 413.47h6.6M506.37 417.21h6.6M511.12 415.34V419.08M507.82 415.34h6.6M507.82 419.08h6.6M512.57 416.84V420.57M509.27 416.84h6.6M509.27 420.57h6.6M514.03 417.96V421.69M510.73 417.96h6.6M510.73 421.69h6.6M515.48 418.52V422.25M512.18 418.52h6.6M512.18 422.25h6.6M516.94 418.70V422.44M513.64 418.70h6.6M513.64 422.44h6.6M518.39 418.52V422.25M515.09 418.52h6.6M515.09 422.25h6.6M519.84 417.96V421.69M516.54 417.96h6.6M516.54 421.69h6.6M521.30 416.84V420.57M518.00 416.84h6.6M518.00 420.57h6.6M522.75 415.34V419.08M519.45 415.34h6.6M519.45 419.08h6.6M524.21 413.47V417.21M520.91 413.47h6.6M520.91 417.21h6.6M525.66 410.48V414.22M522.36 410.48h6.6M522.36 414.22h6.6M527.12 407.21V410.01M523.82 407.21h6.6M523.82 410.01h6.6M528.57 400.25V403.52M525.27 400.25h6.6M525.27 403.52h6.6M530.02 386.03V390.09M526.72 386.03h6.6M526.72 390.09h6.6M531.48 363.09V368.18M528.18 363.09h6.6M528.18 368.18h6.6M532.93 338.33V344.34M529.63 338.33h6.6M529.63 344.34h6.6M534.39 313.64V320.45M531.09 313.64h6.6M531.09 320.45h6.6M535.84 288.99V296.51M532.54 288.99h6.6M532.54 296.51h6.6M537.29 258.69V267.01M533.99 258.69h6.6M533.99 267.01h6.6M538.75 220.87V230.08M535.45 220.87h6.6M535.45 230.08h6.6M540.20 179.31V189.41M536.90 179.31h6.6M536.90 189.41h6.6M541.66 136.66V147.60M538.36 136.66h6.6M538.36 147.60h6.6M543.11 140.05V150.93M539.81 140.05h6.6M539.81 150.93h6.6M544.57 145.34V156.11M541.27 145.34h6.6M541.27 156.11h6.6M546.02 154.77V165.37M542.72 154.77h6.6M542.72 165.37h6.6M547.47 167.98V178.32M544.17 167.98h6.6M544.17 178.32h6.6M548.93 209.53V218.99M545.63 209.53h6.6M545.63 218.99h6.6M550.38 258.69V267.01M547.08 258.69h6.6M547.08 267.01h6.6M551.84 294.68V302.04M548.54 294.68h6.6M548.54 302.04h6.6M553.29 307.95V314.93M549.99 307.95h6.6M549.99 314.93h6.6M554.75 321.23V327.80M551.45 321.23h6.6M551.45 327.80h6.6M556.20 336.81V342.87M552.90 336.81h6.6M552.90 342.87h6.6M557.65 352.41V357.92M554.35 352.41h6.6M554.35 357.92h6.6M559.11 363.47V368.54M555.81 363.47h6.6M555.81 368.54h6.6M560.56 374.54V379.15M557.26 374.54h6.6M557.26 379.15h6.6M562.02 383.54V387.72M558.72 383.54h6.6M558.72 387.72h6.6M563.47 392.55V396.27M560.17 392.55h6.6M560.17 396.27h6.6M564.92 399.65V402.95M561.62 399.65h6.6M561.62 402.95h6.6M566.38 405.27V408.21M563.08 405.27h6.6M563.08 408.21h6.6M567.83 409.35V411.99M564.53 409.35h6.6M564.53 411.99h6.6M569.29 412.66V415.03M565.99 412.66h6.6M565.99 415.03h6.6M570.74 415.73V417.83M567.44 415.73h6.6M567.44 417.83h6.6M572.20 418.15V420.01M568.90 418.15h6.6M568.90 420.01h6.6M573.65 419.91V421.57M570.35 419.91h6.6M570.35 421.57h6.6M575.10 421.33V422.81M571.80 421.33h6.6M571.80 422.81h6.6M576.56 422.44V423.77M573.26 422.44h6.6M573.26 423.77h6.6M578.01 423.34V424.53M574.71 423.34h6.6M574.71 424.53h6.6M579.47 424.15V425.20M576.17 424.15h6.6M576.17 425.20h6.6M580.92 424.78V425.71M577.62 424.78h6.6M577.62 425.71h6.6M582.38 425.25V426.08M579.08 425.25h6.6M579.08 426.08h6.6M583.83 425.62V426.36M580.53 425.62h6.6M580.53 426.36h6.6M585.28 425.99V426.63M581.98 425.99h6.6M581.98 426.63h6.6M586.74 426.27V426.83M583.44 426.27h6.6M583.44 426.83h6.6M588.19 426.54V427.01M584.89 426.54h6.6M584.89 427.01h6.6M589.65 426.73V427.12M586.35 426.73h6.6M586.35 427.12h6.6M591.10 426.83V427.18M587.80 426.83h6.6M587.80 427.18h6.6M592.55 426.91V427.22M589.25 426.91h6.6M589.25 427.22h6.6M594.01 426.97V427.25M590.71 426.97h6.6M590.71 427.25h6.6M595.46 427.03V427.28M592.16 427.03h6.6M592.16 427.28h6.6M596.92 427.09V427.30M593.62 427.09h6.6M593.62 427.30h6.6M598.37 427.14V427.30M595.07 427.14h6.6M595.07 427.30h6.6M599.83 427.17V427.30M596.53 427.17h6.6M596.53 427.30h6.6M601.28 427.20V427.30M597.98 427.20h6.6M597.98 427.30h6.6M602.73 427.20V427.30M599.43 427.20h6.6M599.43 427.30h6.6M604.19 427.20V427.30M600.89 427.20h6.6M600.89 427.30h6.6M605.64 427.20V427.30M602.34 427.20h6.6M602.34 427.30h6.6M607.10 427.30V427.30M603.80 427.30h6.6M603.80 427.30h6.6M608.55 427.30V427.30M605.25 427.30h6.6M605.25 427.30h6.6M610.00 427.30V427.30M606.70 427.30h6.6M606.70 427.30h6.6M611.46 427.30V427.30M608.16 427.30h6.6M608.16 427.30h6.6M612.91 427.30V427.30M609.61 427.30h6.6M609.61 427.30h6.6M614.37 427.30V427.30M611.07 427.30h6.6M611.07 427.30h6.6M615.82 427.30V427.30M612.52 427.30h6.6M612.52 427.30h6.6M617.28 427.30V427.30M613.98 427.30h6.6M613.98 427.30h6.6M618.73 427.30V427.30M615.43 427.30h6.6M615.43 427.30h6.6M620.18 427.30V427.30M616.88 427.30h6.6M616.88 427.30h6.6M621.64 427.30V427.30M618.34 427.30h6.6M618.34 427.30h6.6M623.09 427.30V427.30M619.79 427.30h6.6M619.79 427.30h6.6M624.55 427.30V427.30M621.25 427.30h6.6M621.25 427.30h6.6M626.00 427.30V427.30M622.70 427.30h6.6M622.70 427.30h6.6M627.46 427.30V427.30M624.16 427.30h6.6M624.16 427.30h6.6M628.91 427.30V427.30M625.61 427.30h6.6M625.61 427.30h6.6M630.36 427.30V427.30M627.06 427.30h6.6M627.06 427.30h6.6M631.82 427.30V427.30M628.52 427.30h6.6M628.52 427.30h6.6M633.27 427.30V427.30M629.97 427.30h6.6M629.97 427.30h6.6" stroke="#ff0000" stroke-width="0.8" fill="none"/>
<polyline points="400.60,427.30 402.05,427.30 403.51,427.30 404.96,427.30 406.42,427.30 407.87,427.30 409.33,427.30 410.78,427.30 412.23,427.30 413.69,427.30 415.14,427.30 416.60,427.30 418.05,427.30 419.50,427.30 420.96,427.30 422.41,427.30 423.87,427.30 425.32,427.30 426.78,427.30 428.23,427.26 429.68,427.26 431.14,427.26 432.59,427.26 434.05,427.25 435.50,427.23 436.96,427.19 438.41,427.15 439.86,427.11 441.32,427.06 442.77,427.00 444.23,426.93 445.68,426.77 447.13,426.55 448.59,426.31 450.04,425.99 451.50,425.66 452.95,425.24 454.41,424.67 455.86,423.94 457.31,423.10 458.77,422.07 460.22,420.74 461.68,419.08 463.13,416.78 464.58,413.85 466.04,410.67 467.49,406.74 468.95,401.30 470.40,394.41 471.86,385.63 473.31,376.84 474.76,366.00 476.22,355.17 477.67,339.84 479.13,324.52 480.58,311.44 482.04,298.36 483.49,262.85 484.94,214.26 486.40,173.15 487.85,160.07 489.31,150.73 490.76,145.49 492.21,142.13 493.67,184.36 495.12,225.47 496.58,262.85 498.03,292.75 499.49,317.04 500.94,341.34 502.39,365.63 503.85,388.06 505.30,401.88 506.76,408.61 508.21,412.35 509.67,415.34 511.12,417.21 512.57,418.70 514.03,419.82 515.48,420.39 516.94,420.57 518.39,420.39 519.84,419.82 521.30,418.70 522.75,417.21 524.21,415.34 525.66,412.35 527.12,408.61 528.57,401.88 530.02,388.06 531.48,365.63 532.93,341.34 534.39,317.04 535.84,292.75 537.29,262.85 538.75,225.47 540.20,184.36 541.66,142.13 543.11,145.49 544.57,150.73 546.02,160.07 547.47,173.15 548.93,214.26 550.38,262.85 551.84,298.36 553.29,311.44 554.75,324.52 556.20,339.84 557.65,355.17 559.11,366.00 560.56,376.84 562.02,385.63 563.47,394.41 564.92,401.30 566.38,406.74 567.83,410.67 569.29,413.85 570.74,416.78 572.20,419.08 573.65,420.74 575.10,422.07 576.56,423.10 578.01,423.94 579.47,424.67 580.92,425.24 582.38,425.66 583.83,425.99 585.28,426.31 586.74,426.55 588.19,426.77 589.65,426.93 591.10,427.00 592.55,427.06 594.01,427.11 595.46,427.15 596.92,427.19 598.37,427.23 599.83,427.25 601.28,427.26 602.73,427.26 604.19,427.26 605.64,427.26 607.10,427.30 608.55,427.30 610.00,427.30 611.46,427.30 612.91,427.30 614.37,427.30 615.82,427.30 617.28,427.30 618.73,427.30 620.18,427.30 621.64,427.30 623.09,427.30 624.55,427.30 626.00,427.30 627.46,427.30 628.91,427.30 630.36,427.30 631.82,427.30 633.27,427.30" stroke="#ff0000" stroke-width="1.3" fill="none" stroke-linejoin="round"/>
<path d="M400.60 427.30V427.30M397.30 427.30h6.6M397.30 427.30h6.6M402.05 427.30V427.30M398.75 427.30h6.6M398.75 427.30h6.6M403.51 427.30V427.30M400.21 427.30h6.6M400.21 427.30h6.6M404.96 427.30V427.30M401.66 427.30h6.6M401.66 427.30h6.6M406.42 427.30V427.30M403.12 427.30h6.6M403.12 427.30h6.6M407.87 427.30V427.30M404.57 427.30h6.6M404.57 427.30h6.6M409.33 427.30V427.30M406.03 427.30h6.6M406.03 427.30h6.6M410.78 427.30V427.30M407.48 427.30h6.6M407.48 427.30h6.6M412.23 427.30V427.30M408.93 427.30h6.6M408.93 427.30h6.6M413.69 427.30V427.30M410.39 427.30h6.6M410.39 427.30h6.6M415.14 427.30V427.30M411.84 427.30h6.6M411.84 427.30h6.6M416.60 427.30V427.30M413.30 427.30h6.6M413.30 427.30h6.6M418.05 427.30V427.30M414.75 427.30h6.6M414.75 427.30h6.6M419.50 427.30V427.30M416.20 427.30h6.6M416.20 427.30h6.6M420.96 427.30V427.30M417.66 427.30h6.6M417.66 427.30h6.6M422.41 427.30V427.30M419.11 427.30h6.6M419.11 427.30h6.6M423.87 427.30V427.30M420.57 427.30h6.6M420.57 427.30h6.6M425.32 427.30V427.30M422.02 427.30h6.6M422.02 427.30h6.6M426.78 427.30V427.30M423.48 427.30h6.6M423.48 427.30h6.6M428.23 427.30V427.30M424.93 427.30h6.6M424.93 427.30h6.6M429.68 427.30V427.30M426.38 427.30h6.6M426.38 427.30h6.6M431.14 427.30V427.30M427.84 427.30h6.6M427.84 427.30h6.6M432.59 427.30V427.30M429.29 427.30h6.6M429.29 427.30h6.6M434.05 427.21V427.30M430.75 427.21h6.6M430.75 427.30h6.6M435.50 427.21V427.30M432.20 427.21h6.6M432.20 427.30h6.6M436.96 427.21V427.30M433.66 427.21h6.6M433.66 427.30h6.6M438.41 427.21V427.30M435.11 427.21h6.6M435.11 427.30h6.6M439.86 427.19V427.30M436.56 427.19h6.6M436.56 427.30h6.6M441.32 427.15V427.30M438.02 427.15h6.6M438.02 427.30h6.6M442.77 427.11V427.28M439.47 427.11h6.6M439.47 427.28h6.6M444.23 427.05V427.25M440.93 427.05h6.6M440.93 427.25h6.6M445.68 427.00V427.23M442.38 427.00h6.6M442.38 427.23h6.6M447.13 426.94V427.19M443.83 426.94h6.6M443.83 427.19h6.6M448.59 426.86V427.15M445.29 426.86h6.6M445.29 427.15h6.6M450.04 426.77V427.09M446.74 426.77h6.6M446.74 427.09h6.6M451.50 426.58V426.96M448.20 426.58h6.6M448.20 426.96h6.6M452.95 426.33V426.78M449.65 426.33h6.6M449.65 426.78h6.6M454.41 425.90V426.46M451.11 425.90h6.6M451.11 426.46h6.6M455.86 425.28V425.96M452.56 425.28h6.6M452.56 425.96h6.6M457.31 424.59V425.39M454.01 424.59h6.6M454.01 425.39h6.6M458.77 423.65V424.59M455.47 423.65h6.6M455.47 424.59h6.6M460.22 422.69V423.75M456.92 422.69h6.6M456.92 423.75h6.6M461.68 421.47V422.67M458.38 421.47h6.6M458.38 422.67h6.6M463.13 419.76V421.14M459.83 419.76h6.6M459.83 421.14h6.6M464.58 417.54V419.12M461.28 417.54h6.6M461.28 419.12h6.6M466.04 414.98V416.75M462.74 414.98h6.6M462.74 416.75h6.6M467.49 411.72V413.73M464.19 411.72h6.6M464.19 413.73h6.6M468.95 408.10V410.34M465.65 408.10h6.6M465.65 410.34h6.6M470.40 403.63V406.12M467.10 403.63h6.6M467.10 406.12h6.6M471.86 398.77V401.51M468.56 398.77h6.6M468.56 401.51h6.6M473.31 392.90V395.92M470.01 392.90h6.6M470.01 395.92h6.6M474.76 382.79V386.23M471.46 382.79h6.6M471.46 386.23h6.6M476.22 372.69V376.51M472.92 372.69h6.6M472.92 376.51h6.6M477.67 360.53V364.76M474.37 360.53h6.6M474.37 364.76h6.6M479.13 348.38V352.98M475.83 348.38h6.6M475.83 352.98h6.6M480.58 330.37V335.48M477.28 330.37h6.6M477.28 335.48h6.6M482.04 312.39V317.96M478.74 312.39h6.6M478.74 317.96h6.6M483.49 295.37V301.34M480.19 295.37h6.6M480.19 301.34h6.6M484.94 263.25V269.92M481.64 263.25h6.6M481.64 269.92h6.6M486.40 221.74V229.21M483.10 221.74h6.6M483.10 229.21h6.6M487.85 184.03V192.17M484.55 184.03h6.6M484.55 192.17h6.6M489.31 161.42V169.93M486.01 161.42h6.6M486.01 169.93h6.6M490.76 148.24V156.95M487.46 148.24h6.6M487.46 156.95h6.6M492.21 140.70V149.53M488.91 140.70h6.6M488.91 149.53h6.6M493.67 138.07V146.94M490.37 138.07h6.6M490.37 146.94h6.6M495.12 165.19V173.63M491.82 165.19h6.6M491.82 173.63h6.6M496.58 202.88V210.69M493.28 202.88h6.6M493.28 210.69h6.6M498.03 240.60V247.72M494.73 240.60h6.6M494.73 247.72h6.6M499.49 278.36V284.71M496.19 278.36h6.6M496.19 284.71h6.6M500.94 301.04V306.88M497.64 301.04h6.6M497.64 306.88h6.6M502.39 318.07V323.49M499.09 318.07h6.6M499.09 323.49h6.6M503.85 335.11V340.09M500.55 335.11h6.6M500.55 340.09h6.6M505.30 354.07V358.50M502.00 354.07h6.6M502.00 358.50h6.6M506.76 376.88V380.54M503.46 376.88h6.6M503.46 380.54h6.6M508.21 388.43V395.16M504.91 388.43h6.6M504.91 395.16h6.6M509.67 394.04V400.76M506.37 394.04h6.6M506.37 400.76h6.6M511.12 398.89V405.62M507.82 398.89h6.6M507.82 405.62h6.6M512.57 402.63V409.36M509.27 402.63h6.6M509.27 409.36h6.6M514.03 404.13V410.86M510.73 404.13h6.6M510.73 410.86h6.6M515.48 401.88V408.61M512.18 401.88h6.6M512.18 408.61h6.6M516.94 399.27V406.00M513.64 399.27h6.6M513.64 406.00h6.6M518.39 401.88V408.61M515.09 401.88h6.6M515.09 408.61h6.6M519.84 404.13V410.86M516.54 404.13h6.6M516.54 410.86h6.6M521.30 402.63V409.36M518.00 402.63h6.6M518.00 409.36h6.6M522.75 398.89V405.62M519.45 398.89h6.6M519.45 405.62h6.6M524.21 394.04V400.76M520.91 394.04h6.6M520.91 400.76h6.6M525.66 388.43V395.16M522.36 388.43h6.6M522.36 395.16h6.6M527.12 376.88V380.54M523.82 376.88h6.6M523.82 380.54h6.6M528.57 354.07V358.50M525.27 354.07h6.6M525.27 358.50h6.6M530.02 335.11V340.09M526.72 335.11h6.6M526.72 340.09h6.6M531.48 318.07V323.49M528.18 318.07h6.6M528.18 323.49h6.6M532.93 301.04V306.88M529.63 301.04h6.6M529.63 306.88h6.6M534.39 278.36V284.71M531.09 278.36h6.6M531.09 284.71h6.6M535.84 240.60V247.72M532.54 240.60h6.6M532.54 247.72h6.6M537.29 202.88V210.69M533.99 202.88h6.6M533.99 210.69h6.6M538.75 165.19V173.63M535.45 165.19h6.6M535.45 173.63h6.6M540.20 138.07V146.94M536.90 138.07h6.6M536.90 146.94h6.6M541.66 140.70V149.53M538.36 140.70h6.6M538.36 149.53h6.6M543.11 148.24V156.95M539.81 148.24h6.6M539.81 156.95h6.6M544.57 161.42V169.93M541.27 161.42h6.6M541.27 169.93h6.6M546.02 184.03V192.17M542.72 184.03h6.6M542.72 192.17h6.6M547.47 221.74V229.21M544.17 221.74h6.6M544.17 229.21h6.6M548.93 263.25V269.92M545.63 263.25h6.6M545.63 269.92h6.6M550.38 295.37V301.34M547.08 295.37h6.6M547.08 301.34h6.6M551.84 312.39V317.96M548.54 312.39h6.6M548.54 317.96h6.6M553.29 330.37V335.48M549.99 330.37h6.6M549.99 335.48h6.6M554.75 348.38V352.98M551.45 348.38h6.6M551.45 352.98h6.6M556.20 360.53V364.76M552.90 360.53h6.6M552.90 364.76h6.6M557.65 372.69V376.51M554.35 372.69h6.6M554.35 376.51h6.6M559.11 382.79V386.23M555.81 382.79h6.6M555.81 386.23h6.6M560.56 392.90V395.92M557.26 392.90h6.6M557.26 395.92h6.6M562.02 398.77V401.51M558.72 398.77h6.6M558.72 401.51h6.6M563.47 403.63V406.12M560.17 403.63h6.6M560.17 406.12h6.6M564.92 408.10V410.34M561.62 408.10h6.6M561.62 410.34h6.6M566.38 411.72V413.73M563.08 411.72h6.6M563.08 413.73h6.6M567.83 414.98V416.75M564.53 414.98h6.6M564.53 416.75h6.6M569.29 417.54V419.12M565.99 417.54h6.6M565.99 419.12h6.6M570.74 419.76V421.14M567.44 419.76h6.6M567.44 421.14h6.6M572.20 421.47V422.67M568.90 421.47h6.6M568.90 422.67h6.6M573.65 422.69V423.75M570.35 422.69h6.6M570.35 423.75h6.6M575.10 423.65V424.59M571.80 423.65h6.6M571.80 424.59h6.6M576.56 424.59V425.39M573.26 424.59h6.6M573.26 425.39h6.6M578.01 425.28V425.96M574.71 425.28h6.6M574.71 425.96h6.6M579.47 425.90V426.46M576.17 425.90h6.6M576.17 426.46h6.6M580.92 426.33V426.78M577.62 426.33h6.6M577.62 426.78h6.6M582.38 426.58V426.96M579.08 426.58h6.6M579.08 426.96h6.6M583.83 426.77V427.09M580.53 426.77h6.6M580.53 427.09h6.6M585.28 426.86V427.15M581.98 426.86h6.6M581.98 427.15h6.6M586.74 426.94V427.19M583.44 426.94h6.6M583.44 427.19h6.6M588.19 427.00V427.23M584.89 427.00h6.6M584.89 427.23h6.6M589.65 427.05V427.25M586.35 427.05h6.6M586.35 427.25h6.6M591.10 427.11V427.28M587.80 427.11h6.6M587.80 427.28h6.6M592.55 427.15V427.30M589.25 427.15h6.6M589.25 427.30h6.6M594.01 427.19V427.30M590.71 427.19h6.6M590.71 427.30h6.6M595.46 427.21V427.30M592.16 427.21h6.6M592.16 427.30h6.6M596.92 427.21V427.30M593.62 427.21h6.6M593.62 427.30h6.6M598.37 427.21V427.30M595.07 427.21h6.6M595.07 427.30h6.6M599.83 427.21V427.30M596.53 427.21h6.6M596.53 427.30h6.6M601.28 427.30V427.30M597.98 427.30h6.6M597.98 427.30h6.6M602.73 427.30V427.30M599.43 427.30h6.6M599.43 427.30h6.6M604.19 427.30V427.30M600.89 427.30h6.6M600.89 427.30h6.6M605.64 427.30V427.30M602.34 427.30h6.6M602.34 427.30h6.6M607.10 427.30V427.30M603.80 427.30h6.6M603.80 427.30h6.6M608.55 427.30V427.30M605.25 427.30h6.6M605.25 427.30h6.6M610.00 427.30V427.30M606.70 427.30h6.6M606.70 427.30h6.6M611.46 427.30V427.30M608.16 427.30h6.6M608.16 427.30h6.6M612.91 427.30V427.30M609.61 427.30h6.6M609.61 427.30h6.6M614.37 427.30V427.30M611.07 427.30h6.6M611.07 427.30h6.6M615.82 427.30V427.30M612.52 427.30h6.6M612.52 427.30h6.6M617.28 427.30V427.30M613.98 427.30h6.6M613.98 427.30h6.6M618.73 427.30V427.30M615.43 427.30h6.6M615.43 427.30h6.6M620.18 427.30V427.30M616.88 427.30h6.6M616.88 427.30h6.6M621.64 427.30V427.30M618.34 427.30h6.6M618.34 427.30h6.6M623.09 427.30V427.30M619.79 427.30h6.6M619.79 427.30h6.6M624.55 427.30V427.30M621.25 427.30h6.6M621.25 427.30h6.6M626.00 427.30V427.30M622.70 427.30h6.6M622.70 427.30h6.6M627.46 427.30V427.30M624.16 427.30h6.6M624.16 427.30h6.6M628.91 427.30V427.30M625.61 427.30h6.6M625.61 427.30h6.6M630.36 427.30V427.30M627.06 427.30h6.6M627.06 427.30h6.6M631.82 427.30V427.30M628.52 427.30h6.6M628.52 427.30h6.6M633.27 427.30V427.30M629.97 427.30h6.6M629.97 427.30h6.6" stroke="#0000ff" stroke-width="0.8" fill="none"/>
<polyline points="400.60,427.30 402.05,427.30 403.51,427.30 404.96,427.30 406.42,427.30 407.87,427.30 409.33,427.30 410.78,427.30 412.23,427.30 413.69,427.30 415.14,427.30 416.60,427.30 418.05,427.30 419.50,427.30 420.96,427.30 422.41,427.30 423.87,427.30 425.32,427.30 426.78,427.30 428.23,427.30 429.68,427.30 431.14,427.30 432.59,427.30 434.05,427.26 435.50,427.26 436.96,427.26 438.41,427.26 439.86,427.25 441.32,427.23 442.77,427.19 444.23,427.15 445.68,427.11 447.13,427.06 448.59,427.00 450.04,426.93 451.50,426.77 452.95,426.55 454.41,426.18 455.86,425.62 457.31,424.99 458.77,424.12 460.22,423.22 461.68,422.07 463.13,420.45 464.58,418.33 466.04,415.87 467.49,412.72 468.95,409.22 470.40,404.88 471.86,400.14 473.31,394.41 474.76,384.51 476.22,374.60 477.67,362.64 479.13,350.68 480.58,332.93 482.04,315.18 483.49,298.36 484.94,266.59 486.40,225.47 487.85,188.10 489.31,165.68 490.76,152.59 492.21,145.12 493.67,142.50 495.12,169.41 496.58,206.79 498.03,244.16 499.49,281.54 500.94,303.96 502.39,320.78 503.85,337.60 505.30,356.29 506.76,378.71 508.21,391.79 509.67,397.40 511.12,402.26 512.57,406.00 514.03,407.49 515.48,405.25 516.94,402.63 518.39,405.25 519.84,407.49 521.30,406.00 522.75,402.26 524.21,397.40 525.66,391.79 527.12,378.71 528.57,356.29 530.02,337.60 531.48,320.78 532.93,303.96 534.39,281.54 535.84,244.16 537.29,206.79 538.75,169.41 540.20,142.50 541.66,145.12 543.11,152.59 544.57,165.68 546.02,188.10 547.47,225.47 548.93,266.59 550.38,298.36 551.84,315.18 553.29,332.93 554.75,350.68 556.20,362.64 557.65,374.60 559.11,384.51 560.56,394.41 562.02,400.14 563.47,404.88 564.92,409.22 566.38,412.72 567.83,415.87 569.29,418.33 570.74,420.45 572.20,422.07 573.65,423.22 575.10,424.12 576.56,424.99 578.01,425.62 579.47,426.18 580.92,426.55 582.38,426.77 583.83,426.93 585.28,427.00 586.74,427.06 588.19,427.11 589.65,427.15 591.10,427.19 592.55,427.23 594.01,427.25 595.46,427.26 596.92,427.26 598.37,427.26 599.83,427.26 601.28,427.30 602.73,427.30 604.19,427.30 605.64,427.30 607.10,427.30 608.55,427.30 610.00,427.30 611.46,427.30 612.91,427.30 614.37,427.30 615.82,427.30 617.28,427.30 618.73,427.30 620.18,427.30 621.64,427.30 623.09,427.30 624.55,427.30 626.00,427.30 627.46,427.30 628.91,427.30 630.36,427.30 631.82,427.30 633.27,427.30" stroke="#0000ff" stroke-width="1.3" fill="none" stroke-linejoin="round"/>
</g>
<g fill="none" stroke="#000" stroke-width="0.8"><circle cx="458.3" cy="426.9" r="6.8"/>
<circle cx="460.2" cy="425.0" r="6.8"/>
<circle cx="462.5" cy="422.7" r="6.8"/>
<circle cx="464.7" cy="419.4" r="6.8"/>
<circle cx="466.7" cy="415.1" r="6.8"/>
<circle cx="468.1" cy="409.5" r="6.8"/>
<circle cx="469.5" cy="402.5" r="6.8"/>
<circle cx="471.5" cy="394.1" r="6.8"/>
<circle cx="473.2" cy="381.4" r="6.8"/>
<circle cx="474.3" cy="366.5" r="6.8"/>
<circle cx="476.0" cy="358.9" r="6.8"/>
<circle cx="477.1" cy="329.4" r="6.8"/>
<circle cx="478.6" cy="303.5" r="6.8"/>
<circle cx="480.5" cy="287.5" r="6.8"/>
<circle cx="481.8" cy="269.5" r="6.8"/>
<circle cx="483.3" cy="246.8" r="6.8"/>
<circle cx="484.8" cy="250.4" r="6.8"/>
<circle cx="486.1" cy="236.2" r="6.8"/>
<circle cx="487.6" cy="224.0" r="6.8"/>
<circle cx="488.5" cy="190.1" r="6.8"/>
<circle cx="489.6" cy="203.4" r="6.8"/>
<circle cx="491.8" cy="157.6" r="6.8"/>
<circle cx="493.3" cy="173.0" r="6.8"/>
<circle cx="495.0" cy="147.0" r="6.8"/>
<circle cx="496.8" cy="189.6" r="6.8"/>
<circle cx="498.0" cy="204.8" r="6.8"/>
<circle cx="499.0" cy="267.3" r="6.8"/>
<circle cx="501.3" cy="305.5" r="6.8"/>
<circle cx="502.4" cy="349.1" r="6.8"/>
<circle cx="503.5" cy="385.5" r="6.8"/>
<circle cx="504.8" cy="394.7" r="6.8"/>
<circle cx="506.7" cy="415.1" r="6.8"/>
<circle cx="508.5" cy="418.8" r="6.8"/>
<circle cx="510.4" cy="422.5" r="6.8"/>
<circle cx="511.0" cy="426.9" r="6.8"/>
<circle cx="575.2" cy="426.9" r="6.8"/>
<circle cx="573.3" cy="425.0" r="6.8"/>
<circle cx="571.0" cy="422.7" r="6.8"/>
<circle cx="568.8" cy="419.4" r="6.8"/>
<circle cx="566.8" cy="415.1" r="6.8"/>
<circle cx="565.4" cy="409.5" r="6.8"/>
<circle cx="564.0" cy="402.5" r="6.8"/>
<circle cx="562.0" cy="394.1" r="6.8"/>
<circle cx="560.3" cy="381.4" r="6.8"/>
<circle cx="559.2" cy="366.5" r="6.8"/>
<circle cx="557.5" cy="358.9" r="6.8"/>
<circle cx="556.4" cy="329.4" r="6.8"/>
<circle cx="554.9" cy="303.5" r="6.8"/>
<circle cx="553.0" cy="287.5" r="6.8"/>
<circle cx="551.7" cy="269.5" r="6.8"/>
<circle cx="550.2" cy="246.8" r="6.8"/>
<circle cx="548.7" cy="250.4" r="6.8"/>
<circle cx="547.4" cy="236.2" r="6.8"/>
<circle cx="545.9" cy="224.0" r="6.8"/>
<circle cx="545.0" cy="190.1" r="6.8"/>
<circle cx="543.9" cy="203.4" r="6.8"/>
<circle cx="541.7" cy="157.6" r="6.8"/>
<circle cx="540.2" cy="173.0" r="6.8"/>
<circle cx="538.5" cy="147.0" r="6.8"/>
<circle cx="536.7" cy="189.6" r="6.8"/>
<circle cx="535.5" cy="204.8" r="6.8"/>
<circle cx="534.5" cy="267.3" r="6.8"/>
<circle cx="532.2" cy="305.5" r="6.8"/>
<circle cx="531.1" cy="349.1" r="6.8"/>
<circle cx="530.0" cy="385.5" r="6.8"/>
<circle cx="528.7" cy="394.7" r="6.8"/>
<circle cx="526.8" cy="415.1" r="6.8"/>
<circle cx="525.0" cy="418.8" r="6.8"/>
<circle cx="523.1" cy="422.5" r="6.8"/>
<circle cx="522.5" cy="426.9" r="6.8"/></g>
<rect x="114.40" y="53.55" width="232.67" height="373.75" fill="none" stroke="#000" stroke-width="1.2"/>
<path d="M172.57 427.3v-6.8M172.57 53.55v6.8M230.74 427.3v-6.8M230.74 53.55v6.8M288.90 427.3v-6.8M288.90 53.55v6.8M114.40 352.55h6.8M347.07 352.55h-6.8M114.40 277.80h6.8M347.07 277.80h-6.8M114.40 203.05h6.8M347.07 203.05h-6.8M114.40 128.30h6.8M347.07 128.30h-6.8" stroke="#000" stroke-width="0.75" fill="none"/>
<rect x="400.60" y="53.55" width="232.67" height="373.75" fill="none" stroke="#000" stroke-width="1.2"/>
<path d="M458.77 427.3v-6.8M458.77 53.55v6.8M516.94 427.3v-6.8M516.94 53.55v6.8M575.10 427.3v-6.8M575.10 53.55v6.8M400.60 352.55h6.8M633.27 352.55h-6.8M400.60 277.80h6.8M633.27 277.80h-6.8M400.60 203.05h6.8M633.27 203.05h-6.8M400.60 128.30h6.8M633.27 128.30h-6.8" stroke="#000" stroke-width="0.75" fill="none"/>
<rect x="282.2" y="34.0" width="78.59999999999997" height="49.4" fill="#000"/><rect x="277.3" y="28.2" width="78.59999999999997" height="50.0" fill="#fff" stroke="#000" stroke-width="1"/>
<rect x="583.3" y="33.5" width="80.39999999999998" height="50.1" fill="#000"/><rect x="578.4" y="27.7" width="80.39999999999998" height="50.7" fill="#fff" stroke="#000" stroke-width="1"/>
<path d="M726.4 127.1H758.2M726.4 142.0H758.2" stroke="#ff3838" stroke-width="1.15" fill="none"/><path d="M742.7 127.1V142.0" stroke="#ff0000" stroke-width="1.5" fill="none"/>
<path d="M726.4 160.7H758.2M726.4 174.7H758.2" stroke="#3838ff" stroke-width="1.15" fill="none"/><path d="M742.7 160.7V174.7" stroke="#0000ff" stroke-width="1.5" fill="none"/>
<circle cx="741.5" cy="199.45" r="10.55" fill="none" stroke="#000" stroke-width="1.05"/>
</svg>
<div class="t" style="left:96px;top:444.20000000000005px;font-size:33px;transform:translate(-100%,-100%);letter-spacing:-0.3px;">0.0</div>
<div class="t" style="left:96px;top:369.45000000000005px;font-size:33px;transform:translate(-100%,-100%);letter-spacing:-0.3px;">2.0</div>
<div class="t" style="left:96px;top:294.70000000000005px;font-size:33px;transform:translate(-100%,-100%);letter-spacing:-0.3px;">4.0</div>
<div class="t" style="left:96px;top:219.95000000000002px;font-size:33px;transform:translate(-100%,-100%);letter-spacing:-0.3px;">6.0</div>
<div class="t" style="left:96px;top:145.20000000000002px;font-size:33px;transform:translate(-100%,-100%);letter-spacing:-0.3px;">8.0</div>
<div class="t" style="left:96px;top:70.45px;font-size:33px;transform:translate(-100%,-100%);letter-spacing:-0.3px;">10.0</div>
<div class="t" style="left:118.9px;top:475.90000000000003px;font-size:33px;transform:translate(-50%,-100%);letter-spacing:-0.3px;">40</div>
<div class="t" style="left:177.068px;top:475.90000000000003px;font-size:33px;transform:translate(-50%,-100%);letter-spacing:-0.3px;">80</div>
<div class="t" style="left:235.236px;top:475.90000000000003px;font-size:33px;transform:translate(-50%,-100%);letter-spacing:-0.3px;">120</div>
<div class="t" style="left:293.404px;top:475.90000000000003px;font-size:33px;transform:translate(-50%,-100%);letter-spacing:-0.3px;">160</div>
<div class="t" style="left:351.572px;top:475.90000000000003px;font-size:33px;transform:translate(-50%,-100%);letter-spacing:-0.3px;">200</div>
<div class="t" style="left:405.1px;top:475.90000000000003px;font-size:33px;transform:translate(-50%,-100%);letter-spacing:-0.3px;">40</div>
<div class="t" style="left:463.26800000000003px;top:475.90000000000003px;font-size:33px;transform:translate(-50%,-100%);letter-spacing:-0.3px;">80</div>
<div class="t" style="left:521.436px;top:475.90000000000003px;font-size:33px;transform:translate(-50%,-100%);letter-spacing:-0.3px;">120</div>
<div class="t" style="left:579.604px;top:475.90000000000003px;font-size:33px;transform:translate(-50%,-100%);letter-spacing:-0.3px;">160</div>
<div class="t" style="left:637.772px;top:475.90000000000003px;font-size:33px;transform:translate(-50%,-100%);letter-spacing:-0.3px;">200</div>
<div class="t" style="left:376.6px;top:519.62px;font-size:31.6px;transform:translate(-50%,-100%);">mass number</div>
<div class="t" style="left:23.0px;top:240.5px;font-size:42.2px;transform:translate(-50%,-50%) rotate(-90deg);">FFY (%)</div>
<div class="t" style="left:289.0px;top:70.6px;font-size:31.5px;transform:translate(0,-100%);"><span style="font-size:21.1px;position:relative;top:-11.2px">236</span><span style="display:inline-block;transform:scaleX(0.92);transform-origin:0 50%">U</span></div>
<div class="t" style="left:583.3px;top:73.89999999999999px;font-size:31.5px;transform:translate(0,-100%);"><span style="font-size:21.6px;position:relative;top:-17.3px">240</span><span style="display:inline-block;transform:scaleX(1);transform-origin:0 50%">Pu</span></div>
<div class="t" style="left:719.2px;top:145.79999999999998px;font-size:23.0px;transform:translate(-100%,-100%);">TDDFT</div>
<div class="t" style="left:716.2px;top:179.4px;font-size:23.0px;transform:translate(-100%,-100%);">WW</div>
<div class="t" style="left:718.5px;top:214.4px;font-size:23.0px;transform:translate(-100%,-100%);">EXP</div>
</body></html>
